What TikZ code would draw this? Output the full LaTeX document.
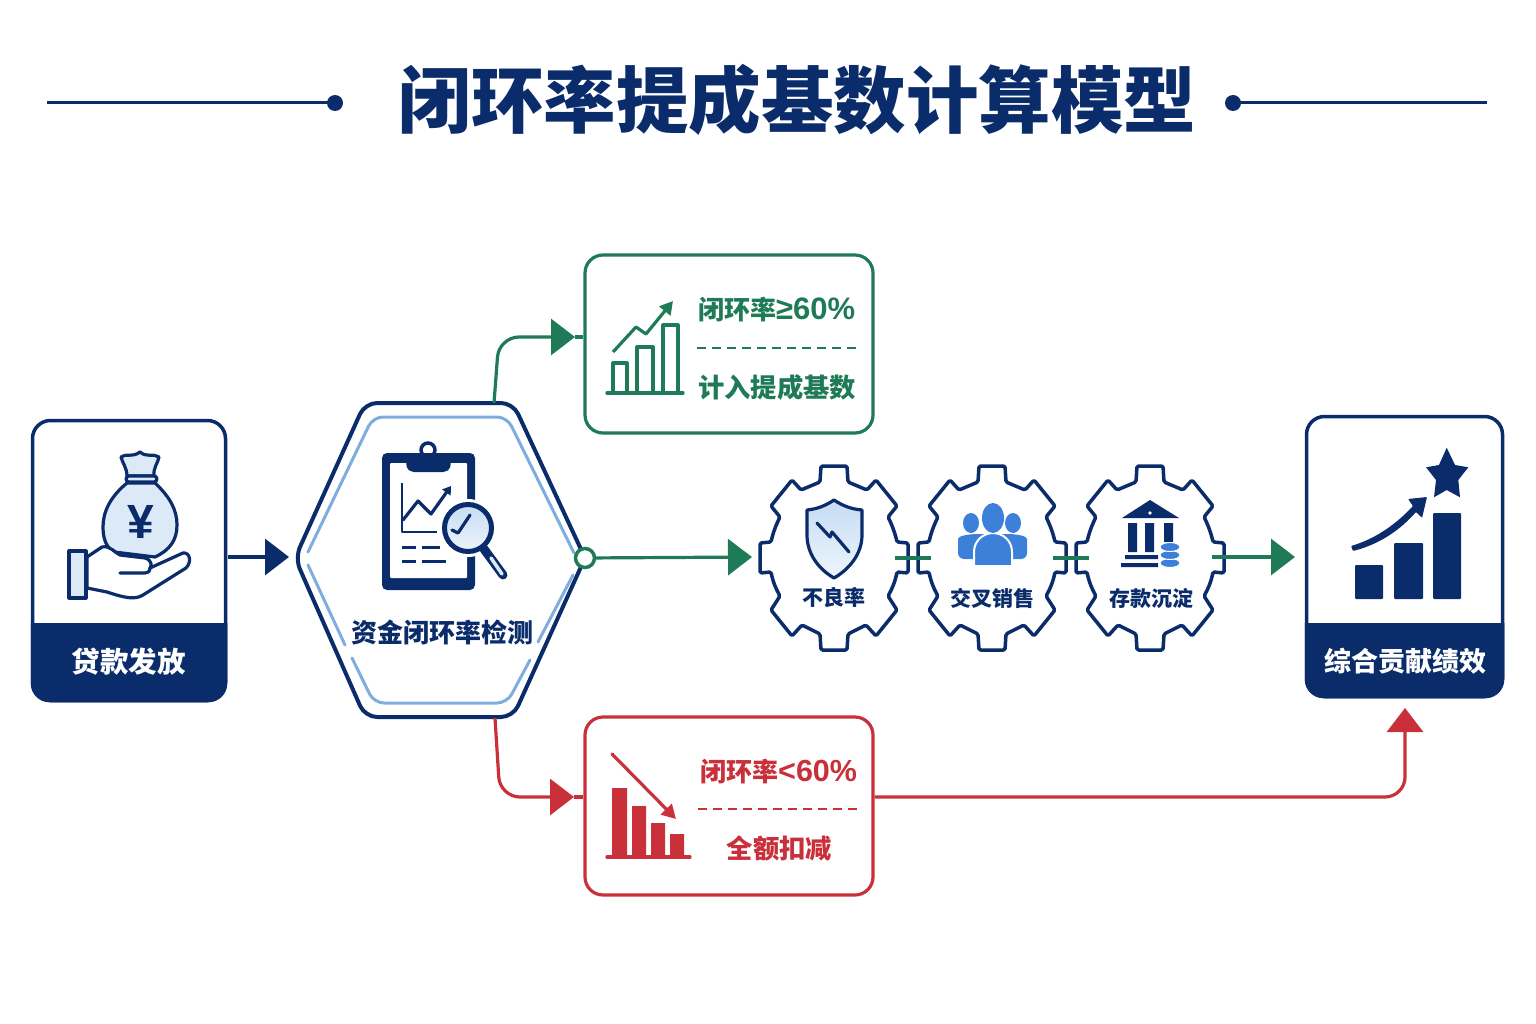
\documentclass[tikz,border=0pt]{standalone}
\usepackage{fontspec}
\setmainfont{Noto Sans CJK SC}
\newfontfamily\latinf{Liberation Sans}
\usetikzlibrary{arrows.meta,shapes.geometric}
\definecolor{navy}{HTML}{0B2C6B}
\definecolor{grn}{HTML}{1F7A58}
\definecolor{rd}{HTML}{C9303A}
\definecolor{hexin}{HTML}{7FADDE}
\definecolor{pale}{HTML}{DCEAF8}
\definecolor{paler}{HTML}{EEF5FC}
\definecolor{palem}{HTML}{C5DCF4}
\definecolor{ppl}{HTML}{3D80D9}
\newcommand{\fs}[1]{\fontsize{#1}{#1}\selectfont\bfseries}
\newcommand{\gearshape}[1]{%
  \begin{scope}[shift={(#1,558)}]
  \draw[navy,line width=3.5pt,fill=white,line join=round,rounded corners=1.5pt]
   (-13,-92)--(13,-92)--(14,-76)--(33,-68)--(42,-78)--(63,-52)--(54,-41) .. controls (58,-33) and (61,-25) .. (63,-16)--(74,-15)--(74,15)--(63,14) .. controls (61,24) and (58,31) .. (54,38)--(63,52)--(42,78)--(32,67)--(14,76)--(13,92)--(-13,92)--(-14,76)--(-32,67)--(-42,78)--(-63,52)--(-54,38) .. controls (-58,31) and (-61,24) .. (-63,14)--(-74,15)--(-74,-15)--(-63,-16) .. controls (-61,-25) and (-58,-33) .. (-54,-41)--(-63,-52)--(-42,-78)--(-33,-68)--(-14,-76)--cycle;
  \end{scope}}
\tikzset{
  x=1pt,y=-1pt,
  panel/.style={draw=navy,line width=3.5pt,rounded corners=18pt,fill=white,minimum width=#1,inner sep=0pt},
  band/.style={fill=navy,draw=navy,line width=3.5pt},
  rbox/.style={draw=#1,line width=3.2pt,rounded corners=18pt,fill=white,minimum width=288pt,minimum height=178pt,inner sep=0pt},
  glink/.style={grn,line width=3.2pt,-{Triangle[length=24pt,width=36pt]}},
  rlink/.style={rd,line width=3.2pt,-{Triangle[length=24pt,width=36pt]}},
  nlink/.style={navy,line width=3.5pt,-{Triangle[length=24pt,width=36pt]}},
  plain/.style={line width=3.2pt,#1},
  lab/.style={text=navy,inner sep=0pt,font=\fs{#1}},
  sep/.style={#1,line width=2.2pt,dash pattern=on 9pt off 6pt},
  icon/.style={line width=3.2pt,line join=round,line cap=round,#1},
}
\begin{document}
\begin{tikzpicture}
\useasboundingbox (0,0) rectangle (1536,1024);
% title
\node[lab=72.5] (title) at (797.5,100) {闭环率提成基数计算模型};
\coordinate (tl0) at (47,103); \coordinate (tl1) at (335,103);
\coordinate (tr0) at (1233,103); \coordinate (tr1) at (1487,103);
\draw[navy,line width=3pt] (tl0)--(tl1) (tr0)--(tr1);
\fill[navy] (tl1) circle (8) (tr0) circle (8);
% left box
\node[panel=193pt,minimum height=280pt] (loan) at (129,560.5) {};
\begin{scope}
\clip (29,623) rectangle (229,704);
\draw[band,rounded corners=17pt] (32.5,500) rectangle (225.5,700.5);
\end{scope}
\node[lab=28.5,text=white] (loant) at (128.5,662) {贷款发放};
% money bag
\draw[icon={navy},fill=pale] (127,483) .. controls (110,497) and (103,512) .. (103,527) .. controls (103,540) and (107,548) .. (114,552) -- (155,557) .. controls (170,550) and (177,540) .. (177,525) .. controls (177,510) and (170,497) .. (155,483) -- cycle;
\draw[icon={navy},fill=pale] (127,476) .. controls (127,468) and (122,462) .. (121,457) .. controls (126,453) and (132,458) .. (140,452) .. controls (147,458) and (153,453) .. (159,457) .. controls (158,463) and (153,468) .. (154,476) -- cycle;
\draw[icon={navy},fill=pale,rounded corners=3pt] (126,476) rectangle (157,482);
\node[text=navy,inner sep=0pt,font=\latinf\fontsize{48}{48}\selectfont\bfseries] (yen) at (141,522) {¥};
% hand
\draw[icon={navy},fill=white] (87,557) -- (102,547) .. controls (110,545) and (115,553) .. (120,555) -- (145,558) .. controls (152,560) and (152,566) .. (150,568) -- (183,553) .. controls (190,552) and (192,562) .. (186,568) -- (143,595) .. controls (135,600) and (125,598) .. (107,592) -- (87,588) -- cycle;
\draw[icon={navy}] (150,568) .. controls (150,572) and (147,573) .. (145,573) -- (120,573);
\draw[icon={navy},fill=pale] (69,551) rectangle (86,598);
% arrow 1
\coordinate (a1s) at (228,557); \coordinate (a1e) at (289,557);
\draw[nlink] (a1s) -- (a1e);
% hexagon
\coordinate (hexW) at (295,558); \coordinate (hexE) at (585,558);
\coordinate (hexTR) at (494,403); \coordinate (hexBR) at (495,718);
\draw[navy,line width=4pt,fill=white,rounded corners=12pt] (hexW) -- (365,403) -- (513,403) -- (hexE) -- (513,717) -- (365,717) -- cycle;
\begin{scope}[hexin,line width=3pt,line cap=round,rounded corners=10pt]
\draw (308,552) -- (373,417) -- (507,417) -- (574,553);
\draw (308,565) -- (345,645);
\draw (352,658) -- (374,703) -- (507,703) -- (530,660);
\draw (573,575) -- (538,642);
\end{scope}
% clipboard
\draw[navy,line width=3.5pt,fill=white] (428,450) circle (7);
\fill[navy,rounded corners=5pt] (382,453) rectangle (475,590);
\fill[white,rounded corners=1pt] (390,463) rectangle (467,578);
\fill[navy,rounded corners=2pt] (406,461) -- (451,461) -- (450,469) -- (445,472) -- (412,472) -- (407,469) -- cycle;
\draw[navy,line width=2.8pt,line join=round] (402,483) -- (402,532) -- (437,532);
\draw[icon={navy},-{Triangle[length=8pt,width=10pt]}] (403,520) -- (418,501) -- (431,514) -- (451,486);
\draw[navy,line width=3pt] (402,547)--(416,547) (422,547)--(440,547) (402,561)--(416,561) (422,561)--(446,561);
% magnifier
\fill[white] (468,528) circle (29);
\draw[navy,line width=9pt,line cap=round] (484,549) -- (503,575);
\draw[pale,line width=3.5pt,line cap=round] (491,558) -- (502,574);
\draw[navy,line width=5pt,top color=palem,bottom color=paler] (468,528) circle (23.5);
\draw[icon={navy}] (452,530) -- (458,533) -- (470,515);
\node[lab=26] (hext) at (442.5,632) {资金闭环率检测};
% green box
\node[rbox=grn] (gbox) at (729,344) {};
\coordinate (gtip) at (575,337);
\coordinate (gentry) at (gbox.west |- gtip);
\draw[glink,rounded corners=20pt] (hexTR) -- (499,337) -- (gtip);
\draw[plain=grn] (gtip) -- (gentry);
\draw[icon={grn}] (607,393) -- (683,393);
\draw[grn,line width=3.2pt,line join=round] (613,393) -- (613,363) -- (627,363) -- (627,393) (637,393) -- (637,347) -- (653,347) -- (653,393) (663,393) -- (663,325) -- (678,325) -- (678,393);
\draw[grn,line width=3.2pt,line join=round,-{Triangle[length=13pt,width=14pt]}] (613,352) -- (636,327) -- (646,334) -- (673,301);
\node[lab=26,text=grn,anchor=west] (gt1) at (698,310) {闭环率{\latinf\fontsize{31}{31}\selectfont\bfseries ≥60\%}};
\draw[sep=grn] (697,348) -- (857,348);
\node[lab=26.3,text=grn] (gt2) at (777,387) {计入提成基数};
% red box
\node[rbox=rd] (rbox1) at (729,806) {};
\coordinate (rtip) at (574,797);
\coordinate (rentry) at (rbox1.west |- rtip);
\coordinate (rexit) at (rbox1.east |- rtip);
\draw[rlink,rounded corners=20pt] (hexBR) -- (500,797) -- (rtip);
\draw[plain=rd] (rtip) -- (rentry);
\draw[icon={rd}] (607,857) -- (690,857);
\fill[rd] (612,788) rectangle (627,857) (632,806) rectangle (646,857) (651,823) rectangle (665,857) (670,834) rectangle (684,857);
\draw[rd,line width=3.2pt,line cap=round,-{Triangle[length=14pt,width=15pt]}] (612,754) -- (676,819);
\node[lab=26,text=rd,anchor=west] (rt1) at (700,772) {闭环率{\latinf\fontsize{30.5}{30.5}\selectfont\bfseries <60\%}};
\draw[sep=rd] (698,809) -- (857,809);
\node[lab=26.3,text=rd] (rt2) at (779.5,848) {全额扣减};
% gears
\gearshape{834}\gearshape{992}\gearshape{1150}
\coordinate (g1l) at (752,557);
\coordinate (g1r) at (895,558); \coordinate (g2l) at (931,558);
\coordinate (g2r) at (1053,558); \coordinate (g3l) at (1089,558);
\coordinate (g3r) at (1212,557); \coordinate (perfin) at (1295,557);
\draw[glink] (hexE) -- (g1l);
\draw[plain=grn] (g1r)--(g2l) (g2r)--(g3l);
\draw[glink] (g3r) -- (perfin);
\draw[grn,line width=3.5pt,fill=white] (hexE) circle (9.5);
% shield
\draw[navy,line width=3.2pt,top color=palem,bottom color=paler,line join=round] (834,500) .. controls (825,506) and (817,509) .. (807,510) -- (807,535) .. controls (807,555) and (820,570) .. (834,578) .. controls (848,570) and (862,555) .. (862,535) -- (862,510) .. controls (851,509) and (843,506) .. (834,500) -- cycle;
\draw[navy,line width=3.2pt,line cap=round,line join=round] (817,523) -- (830,537) -- (832,532) -- (849,552);
\node[lab=21] (g1t) at (834,598) {不良率};
% people
\fill[ppl] (971,523) ellipse (8 and 10) (1013,523) ellipse (8 and 10);
\fill[ppl,rounded corners=6pt] (958,559) -- (958,545) .. controls (958,536) and (968,534) .. (985,534) -- (1001,534) .. controls (1017,534) and (1027,536) .. (1027,545) -- (1027,559) -- cycle;
\draw[fill=ppl,draw=white,line width=2pt] (974,566) -- (974,552) .. controls (974,540) and (984,533) .. (993,533) .. controls (1002,533) and (1012,540) .. (1012,552) -- (1012,566) -- cycle;
\fill[ppl] (993,518) ellipse (11 and 15);
\node[lab=21] (g2t) at (992,598) {交叉销售};
% bank
\fill[navy] (1150,500) -- (1179,518) -- (1122,518) -- cycle;
\fill[white] (1150,513) circle (1.8);
\fill[navy] (1128,523) rectangle (1137,552) (1145,523) rectangle (1154,552) (1164,523) rectangle (1173,542);
\fill[navy] (1125,555) rectangle (1158,559) (1121,563) rectangle (1158,567);
\foreach \cy in {563,555,547}{\draw[fill=ppl,draw=white,line width=1pt] (1170,\cy) ellipse (10 and 4.5);}
\node[lab=21] (g3t) at (1151,598) {存款沉淀};
% right box
\node[panel=196pt,minimum height=280pt] (perf) at (1404.5,556.5) {};
\begin{scope}
\clip (1302,623) rectangle (1507,701);
\draw[band,rounded corners=17pt] (1306.5,500) rectangle (1502.5,696.5);
\end{scope}
\node[lab=27,text=white] (perft) at (1405.5,661) {综合贡献绩效};
\fill[navy,rounded corners=1pt] (1355,565) rectangle (1383,599) (1394,543) rectangle (1423,599) (1433,513) rectangle (1461,599);
\fill[navy,rounded corners=1pt] (1351,546) .. controls (1378,538) and (1398,522) .. (1413,506) -- (1408,499) -- (1427,497) -- (1422,518) -- (1416,512) .. controls (1400,530) and (1380,544) .. (1353,551) -- cycle;
\fill[navy] (1446.7,447.7) -- (1455,465) -- (1468.3,467.3) -- (1458.3,480) -- (1460,497.3) -- (1446.7,490) -- (1434,497.3) -- (1436,480) -- (1426,467.3) -- (1439,465) -- cycle;
% red return
\coordinate (rup) at (1405,708);
\draw[rlink,rounded corners=20pt] (rexit) -- (1405,797) -- (rup);
\end{tikzpicture}
\end{document}
